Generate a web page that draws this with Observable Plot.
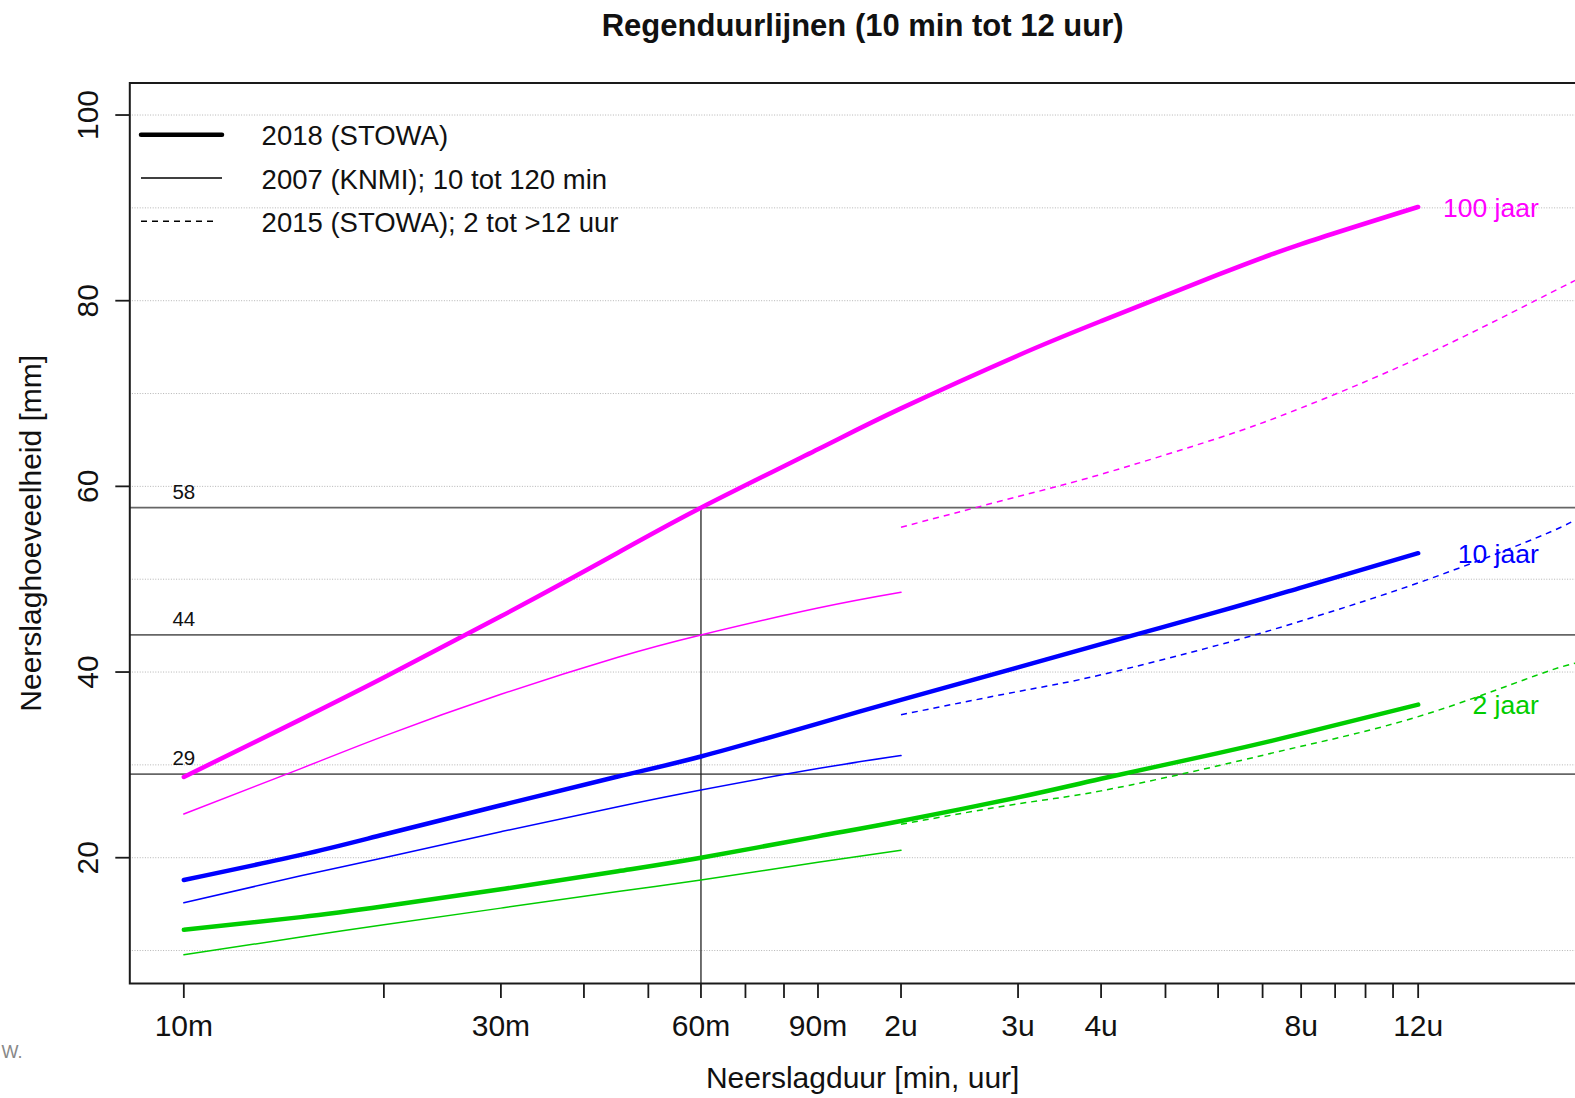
<!DOCTYPE html>
<html>
<head>
<meta charset="utf-8">
<script src="https://cdn.jsdelivr.net/npm/d3@7"></script>
<script src="https://cdn.jsdelivr.net/npm/@observablehq/plot@0.6"></script>
<style>
  html, body { margin: 0; padding: 0; overflow: hidden; background: #fff; }
  #chart { width: 1575px; height: 1098px; overflow: hidden; }
</style>
</head>
<body>
<div id="chart"></div>
<script>
// ---------- data ----------
const returnPeriods = ["100 jaar", "10 jaar", "2 jaar"];
const seriesColors = ["#FF00FF", "#0000FF", "#00CD00"];

// 2018 (STOWA)
const durations2018 = [10, 15, 20, 30, 45, 60, 90, 120, 180, 240, 360, 480, 720];
const stowa2018_100 = [28.7, 34.9, 39.4, 46.0, 52.85, 57.7, 64.0, 68.4, 74.1, 77.8, 82.8, 86.1, 90.1];
const stowa2018_10  = [17.6, 20.3, 22.5, 25.65, 28.75, 30.9, 34.45, 37.0, 40.5, 43.0, 46.5, 49.1, 52.8];
const stowa2018_2   = [12.24, 13.6, 14.77, 16.6, 18.55, 20.0, 22.3, 23.95, 26.5, 28.5, 31.27, 33.36, 36.49];

// 2007 (KNMI); 10 tot 120 min
const durations2007 = [10, 15, 20, 30, 45, 60, 90, 120];
const knmi2007_100 = [24.7, 29.6, 33.1, 37.6, 41.6, 44.0, 46.9, 48.6];
const knmi2007_10  = [15.15, 18.05, 20.0, 22.8, 25.5, 27.3, 29.6, 31.0];
const knmi2007_2   = [9.55, 11.45, 12.78, 14.57, 16.35, 17.6, 19.5, 20.8];

// 2015 (STOWA); 2 tot >12 uur
const durations2015 = [120, 180, 240, 360, 480, 720, 1080, 1250];
const stowa2015_100 = [55.6, 58.9, 61.3, 65.2, 68.45, 73.8, 80.0, 82.3];
const stowa2015_10  = [35.4, 37.9, 39.7, 42.9, 45.5, 49.6, 54.4, 56.5];
const stowa2015_2   = [23.6, 25.8, 27.2, 29.9, 32.0, 35.2, 39.6, 41.0];

// reference lines
const refValues = [57.7, 44.0, 29.0];
const refLabels = ["58", "44", "29"];
const refDuration = 60;

// axes
const xTickValues = [10, 20, 30, 40, 50, 60, 70, 80, 90, 120, 180, 240, 300, 360, 420, 480, 540, 600, 660, 720];
const xTickLabels = ["10m", "", "30m", "", "", "60m", "", "", "90m", "2u", "3u", "4u", "", "", "", "8u", "", "", "", "12u"];
const yTickValues = [20, 40, 60, 80, 100];
const gridValues = [10, 20, 30, 40, 50, 60, 70, 80, 90, 100];
const xDomain = [8.293, 1331];
const yDomain = [6.45, 103.45];

const legendLabels = ["2018 (STOWA)", "2007 (KNMI); 10 tot 120 min", "2015 (STOWA); 2 tot >12 uur"];
const titleText = "Regenduurlijnen (10 min tot 12 uur)";
const xLabelText = "Neerslagduur [min, uur]";
const yLabelText = "Neerslaghoeveelheid [mm]";
const cornerText = "W.";

// ---------- build ----------
const FONT = "'Liberation Sans', Arial, Helvetica, sans-serif";
const sets = [
  {dur: durations2018, vals: [stowa2018_100, stowa2018_10, stowa2018_2], width: 4.5, dash: null},
  {dur: durations2007, vals: [knmi2007_100, knmi2007_10, knmi2007_2], width: 1.5, dash: null},
  {dur: durations2015, vals: [stowa2015_100, stowa2015_10, stowa2015_2], width: 1.5, dash: "6,5"}
];

const lineMarks = [];
sets.forEach(s => {
  s.vals.forEach((vals, i) => {
    const rows = s.dur.map((d, k) => ({d, v: vals[k]}));
    const opts = {x: "d", y: "v", stroke: seriesColors[i], strokeWidth: s.width,
                  curve: "natural", strokeLinecap: s.dash ? "butt" : "round"};
    if (s.dash) opts.strokeDasharray = s.dash;
    lineMarks.push(Plot.line(rows, opts));
  });
});

const endLabelMarks = returnPeriods.map((name, i) => {
  const vals = sets[0].vals[i];
  return Plot.text([{d: durations2018[durations2018.length - 1], v: vals[vals.length - 1], name}], {
    x: "d", y: "v", text: "name", fill: seriesColors[i], fontSize: 26.5,
    textAnchor: "end", lineAnchor: "bottom", dx: 120.6, dy: 9.8
  });
});

const legendStyles = [
  {w: 4.5, dash: null, cap: "round"},
  {w: 1.5, dash: null, cap: "butt"},
  {w: 1.5, dash: "6,5", cap: "butt"}
];
function legendMark() {
  const g = d3.create("svg:g")
    .attr("font-family", FONT)
    .attr("font-size", 27.5)
    .attr("text-anchor", "start")
    .attr("fill", "#111");
  legendLabels.forEach((lab, i) => {
    const y = 134.7 + i * 43.3;
    const st = legendStyles[i];
    const ln = g.append("line")
      .attr("x1", 141).attr("x2", i === 2 ? 217 : 222)
      .attr("y1", y).attr("y2", y)
      .attr("stroke", "#000").attr("stroke-width", st.w)
      .attr("stroke-linecap", st.cap);
    if (st.dash) ln.attr("stroke-dasharray", st.dash);
    g.append("text").attr("x", 261.6).attr("y", y + 10.6)
      .attr("text-anchor", "start").text(lab);
  });
  return g.node();
}

const xLabelRows = xTickValues.map((v, i) => ({v, label: xTickLabels[i]})).filter(r => r.label !== "");

const chart = Plot.plot({
  width: 1595,
  height: 1098,
  marginLeft: 129.3,
  marginRight: 0,
  marginTop: 82.5,
  marginBottom: 115,
  style: {fontFamily: FONT, fontSize: "30px", color: "#111", background: "#fff", maxWidth: "none", overflow: "hidden"},
  x: {type: "log", domain: xDomain},
  y: {domain: yDomain},
  marks: [
    Plot.ruleY(gridValues, {stroke: "#b4b4b4", strokeWidth: 1, strokeDasharray: "1,1.6"}),
    Plot.ruleY(refValues, {stroke: "#666", strokeWidth: 1.7}),
    Plot.ruleX([refDuration], {y1: refValues[0], y2: yDomain[0], stroke: "#222", strokeWidth: 1.3}),
    ...lineMarks,
    ...endLabelMarks,
    Plot.text(refValues.map((v, i) => ({v, t: refLabels[i]})), {
      x: () => 10, y: "v", text: "t", fontSize: 20.5, fill: "#111",
      textAnchor: "middle", lineAnchor: "bottom", dy: -9.2
    }),
    Plot.frame({stroke: "#1a1a1a", strokeWidth: 2}),
    Plot.axisX({ticks: xTickValues, tickSize: 15, tickFormat: () => "", label: null, stroke: "#1a1a1a", strokeWidth: 1.8}),
    Plot.axisY({ticks: yTickValues, tickSize: 14, tickFormat: () => "", label: null, stroke: "#1a1a1a", strokeWidth: 1.8}),
    Plot.text(xLabelRows, {x: "v", text: "label", frameAnchor: "bottom", textAnchor: "middle",
      lineAnchor: "bottom", dy: 52, fontSize: 30, fill: "#111"}),
    Plot.text(yTickValues, {y: d => d, text: d => String(d), frameAnchor: "left", rotate: -90,
      textAnchor: "middle", lineAnchor: "bottom", dx: -32.3, fontSize: 30, fill: "#111"}),
    Plot.text([yLabelText], {text: d => d, frameAnchor: "left", rotate: -90, textAnchor: "middle",
      lineAnchor: "bottom", dx: -89.3, fontSize: 30, fill: "#111"}),
    Plot.text([xLabelText], {text: d => d, frameAnchor: "bottom", textAnchor: "middle",
      lineAnchor: "bottom", dy: 104, fontSize: 30, fill: "#111"}),
    Plot.text([titleText], {text: d => d, frameAnchor: "top", textAnchor: "middle", lineAnchor: "bottom", dy: -47,
      fontSize: 31, fontWeight: "bold", fill: "#111"}),
    Plot.text([cornerText], {text: d => d, frameAnchor: "bottom-left", textAnchor: "start", lineAnchor: "bottom",
      dx: -128.3, dy: 74, fontSize: 18, fill: "#888"}),
    legendMark
  ]
});
document.getElementById("chart").appendChild(chart);
</script>
</body>
</html>
